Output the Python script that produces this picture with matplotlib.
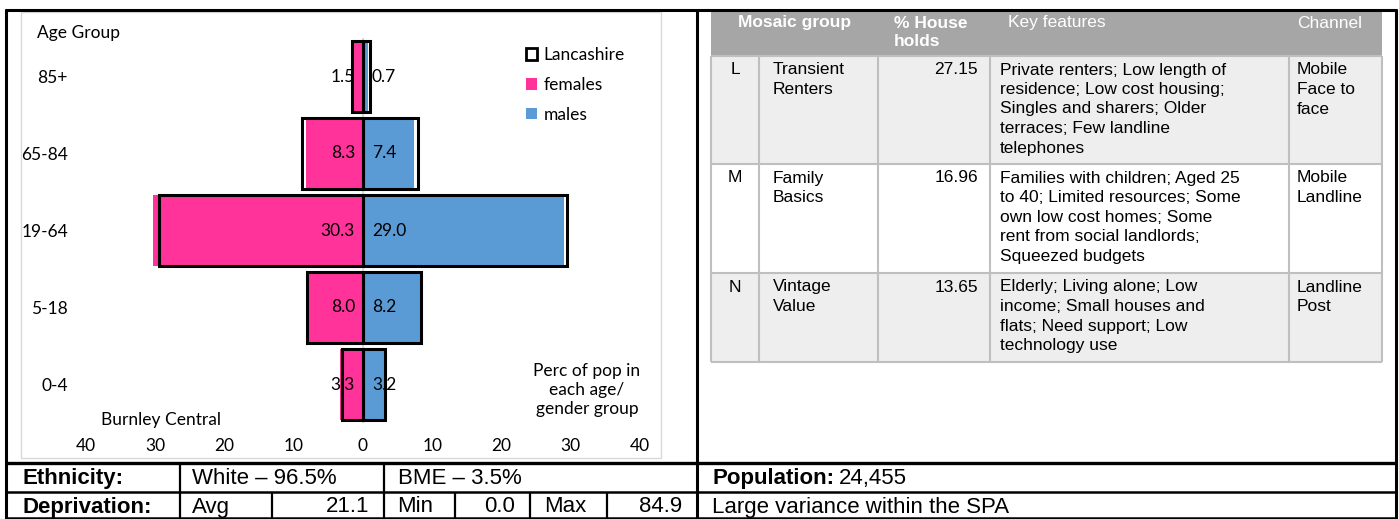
import matplotlib
matplotlib.use('Agg')
import matplotlib.pyplot as plt
from matplotlib.patches import Rectangle, Patch

# ---- chart data ----
age_groups = ['0-4', '5-18', '19-64', '65-84', '85+']
females = [3.3, 8.0, 30.3, 8.3, 1.5]
males = [3.2, 8.2, 29.0, 7.4, 0.7]
lancs_females = [3.0, 8.1, 29.4, 8.8, 1.6]
lancs_males = [3.2, 8.4, 29.4, 7.9, 1.0]
x_ticks = [-40, -30, -20, -10, 0, 10, 20, 30, 40]

# ---- mosaic table data ----
mosaic_codes = ['L', 'M', 'N']
mosaic_names = [['Transient', 'Renters'], ['Family', 'Basics'], ['Vintage', 'Value']]
households = [27.15, 16.96, 13.65]
key_features = [
    ['Private renters; Low length of', 'residence; Low cost housing;',
     'Singles and sharers; Older', 'terraces; Few landline', 'telephones'],
    ['Families with children; Aged 25', 'to 40; Limited resources; Some',
     'own low cost homes; Some', 'rent from social landlords;', 'Squeezed budgets'],
    ['Elderly; Living alone; Low', 'income; Small houses and',
     'flats; Need support; Low', 'technology use'],
]
channels = [['Mobile', 'Face to', 'face'], ['Mobile', 'Landline'], ['Landline', 'Post']]

# ---- summary rows ----
white_pct = 96.5
bme_pct = 3.5
dep_avg = 21.1
dep_min = 0.0
dep_max = 84.9
population = 24455

PINK = '#FF3399'
BLUE = '#5B9BD5'
W, H = 1399, 519
CH_FONT = 'Lato'
TB_FONT = 'Liberation Sans'

fig = plt.figure(figsize=(W / 100, H / 100), dpi=100)

# overlay in pixel coordinates for the frame and tables
ov = fig.add_axes([0, 0, 1, 1])
ov.set_xlim(0, W)
ov.set_ylim(H, 0)
ov.axis('off')


def hline(y, x0, x1, lw=2.0, c='black'):
    ov.plot([x0, x1], [y, y], color=c, lw=lw, solid_capstyle='butt')


def vline(x, y0, y1, lw=2.0, c='black'):
    ov.plot([x, x], [y0, y1], color=c, lw=lw, solid_capstyle='butt')


# chart box
ov.add_patch(Rectangle((21, 12), 640, 446, facecolor='white', edgecolor='#D9D9D9', lw=1))

# outer frame
hline(10, 5, 1397, lw=2.2)
vline(6, 9, H, lw=2.2)
vline(697, 9, H, lw=2.2)
vline(1396, 9, H, lw=2.2)
hline(463, 5, 1397, lw=2.4)
hline(491.5, 5, 1397, lw=1.8)
hline(518, 5, 1397, lw=1.8)

# summary rows
for x in [180, 384]:
    vline(x, 463, 491.5, lw=1.6)
for x in [180, 272, 384, 455, 530, 607]:
    vline(x, 491.5, H, lw=1.6)

fs_b = 16
y1, y2 = 484, 512.5
ov.text(22, y1, 'Ethnicity:', fontsize=fs_b, fontweight='bold', family=TB_FONT, va='baseline')
ov.text(192, y1, f'White \u2013 {white_pct}%', fontsize=fs_b, family=TB_FONT, va='baseline')
ov.text(398, y1, f'BME \u2013 {bme_pct}%', fontsize=fs_b, family=TB_FONT, va='baseline')
pop_lbl = ov.text(712, y1, 'Population:', fontsize=fs_b, fontweight='bold', family=TB_FONT,
                  va='baseline')

ov.text(22, y2, 'Deprivation:', fontsize=fs_b, fontweight='bold', family=TB_FONT, va='baseline')
ov.text(192, y2, 'Avg', fontsize=fs_b, family=TB_FONT, va='baseline')
ov.text(369, y2, f'{dep_avg:.1f}', fontsize=fs_b, family=TB_FONT, va='baseline', ha='right')
ov.text(397, y2, 'Min', fontsize=fs_b, family=TB_FONT, va='baseline')
ov.text(515, y2, f'{dep_min:.1f}', fontsize=fs_b, family=TB_FONT, va='baseline', ha='right')
ov.text(544, y2, 'Max', fontsize=fs_b, family=TB_FONT, va='baseline')
ov.text(682, y2, f'{dep_max:.1f}', fontsize=fs_b, family=TB_FONT, va='baseline', ha='right')
ov.text(712, y2, 'Large variance within the SPA', fontsize=fs_b, family=TB_FONT, va='baseline')

# put the population number just after the bold label
fig.canvas.draw()
bb = pop_lbl.get_window_extent()
ov.text(bb.x1 + 5, y1, f'{population:,}', fontsize=fs_b, family=TB_FONT, va='baseline')

# mosaic table
col_edges = [711, 759, 878, 990, 1289, 1382]
row_edges = [56, 164, 273, 362]
head_top = 11
line_gap = 19.5
fs_t = 12.5
grid_c = '#BFBFBF'

ov.add_patch(Rectangle((col_edges[0], head_top), col_edges[-1] - col_edges[0],
                       row_edges[0] - head_top, facecolor='#A6A6A6', edgecolor='none'))
for i in range(3):
    fc = '#EEEEEE' if i != 1 else 'white'
    ov.add_patch(Rectangle((col_edges[0], row_edges[i]), col_edges[-1] - col_edges[0],
                           row_edges[i + 1] - row_edges[i], facecolor=fc, edgecolor='none'))
for y in row_edges:
    hline(y, col_edges[0], col_edges[-1], lw=1.5, c=grid_c)
for x in col_edges:
    vline(x, row_edges[0], row_edges[-1], lw=1.5, c=grid_c)

ov.text((col_edges[0] + col_edges[2]) / 2, 23, 'Mosaic group', color='white', fontsize=fs_t,
        fontweight='bold', family=TB_FONT, va='center', ha='center')
ov.text(894, 23, '% House', color='white', fontsize=fs_t, fontweight='bold', family=TB_FONT, va='center')
ov.text(894, 42, 'holds', color='white', fontsize=fs_t, fontweight='bold', family=TB_FONT, va='center')
ov.text(1008, 23, 'Key features', color='white', fontsize=fs_t, family=TB_FONT, va='center')
ov.text(1297, 23, 'Channel', color='white', fontsize=fs_t, family=TB_FONT, va='center')

for i in range(3):
    y0 = row_edges[i] + 14
    ov.text((col_edges[0] + col_edges[1]) / 2, y0, mosaic_codes[i], fontsize=fs_t,
            family=TB_FONT, va='center', ha='center')
    for k, s in enumerate(mosaic_names[i]):
        ov.text(col_edges[1] + 14, y0 + k * line_gap, s, fontsize=fs_t, family=TB_FONT, va='center')
    ov.text(col_edges[3] - 12, y0, f'{households[i]:.2f}', fontsize=fs_t, family=TB_FONT,
            va='center', ha='right')
    for k, s in enumerate(key_features[i]):
        ov.text(col_edges[3] + 10, y0 + k * line_gap, s, fontsize=fs_t, family=TB_FONT, va='center')
    for k, s in enumerate(channels[i]):
        ov.text(col_edges[4] + 8, y0 + k * line_gap, s, fontsize=fs_t, family=TB_FONT, va='center')

# ---- population pyramid ----
px_l, px_r, py_t, py_b = 86, 640, 38, 423
ax = fig.add_axes([px_l / W, 1 - py_b / H, (px_r - px_l) / W, (py_b - py_t) / H])
ax.patch.set_visible(False)
ypos = list(range(len(age_groups)))
bh = 0.91
ax.barh(ypos, [-v for v in females], height=bh, color=PINK, zorder=2)
ax.barh(ypos, males, height=bh, color=BLUE, zorder=2)
ax.axvline(0, color='#D9D9D9', lw=1.3, zorder=3)
ax.barh(ypos, [-v for v in lancs_females], height=bh, facecolor='none', edgecolor='black',
        lw=2.2, zorder=4)
ax.barh(ypos, lancs_males, height=bh, facecolor='none', edgecolor='black', lw=2.2, zorder=4)

for i in ypos:
    ax.annotate(f'{females[i]:.1f}', (0, i), xytext=(-8, 0), textcoords='offset pixels',
                ha='right', va='center', fontsize=12.5, family=CH_FONT, zorder=5)
    ax.annotate(f'{males[i]:.1f}', (0, i), xytext=(9, 0), textcoords='offset pixels',
                ha='left', va='center', fontsize=12.5, family=CH_FONT, zorder=5)

ax.set_xlim(-40, 40)
ax.set_ylim(-0.5, len(age_groups) - 0.5)
ax.set_xticks(x_ticks)
ax.set_xticklabels([str(abs(t)) for t in x_ticks], fontsize=12.5, family=CH_FONT)
ax.set_yticks(ypos)
ax.set_yticklabels(age_groups, fontsize=12.5, family=CH_FONT)
ax.tick_params(axis='x', length=0, pad=11)
ax.tick_params(axis='y', length=0, pad=13)
for sp in ax.spines.values():
    sp.set_visible(False)

handles = [Patch(facecolor='white', edgecolor='black', lw=2),
           Patch(facecolor=PINK, edgecolor='none'),
           Patch(facecolor=BLUE, edgecolor='none')]
fig.legend(handles, ['Lancashire', 'females', 'males'], loc='upper left',
           bbox_to_anchor=(526 / W, 1 - 47 / H), frameon=False, borderpad=0, borderaxespad=0,
           handlelength=0.65, handleheight=0.65, handletextpad=0.35, labelspacing=0.8,
           prop={'family': CH_FONT, 'size': 12.5})

ov.text(37, 33, 'Age Group', fontsize=12.5, family=CH_FONT, va='center')
ov.text(161, 420, 'Burnley Central', fontsize=12.5, family=CH_FONT, va='center', ha='center')
ov.text(587, 390, 'Perc of pop in\neach age/\ngender group', fontsize=12.5, family=CH_FONT,
        va='center', ha='center', linespacing=1.25)

fig.savefig('out.png', dpi=100)
